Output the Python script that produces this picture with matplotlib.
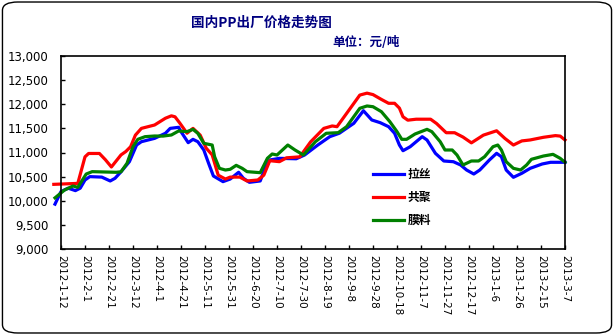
import matplotlib
matplotlib.use('Agg')
import matplotlib.pyplot as plt
from matplotlib.patches import FancyBboxPatch

plt.rcParams['font.family'] = ['DejaVu Sans', 'Noto Sans CJK SC']

# day offsets from 2012-1-12 and prices (元/吨)
red_days = [-6, 14, 20, 23, 32, 37, 42, 50, 54, 58, 62, 67, 78, 87, 92, 95, 99, 105, 110, 116,
            121, 126, 131, 137, 141, 149, 155, 164, 169, 174, 182, 188, 199, 208, 219, 226, 230, 238, 249, 255,
            260, 267, 273, 278, 282, 285, 289, 296, 308, 313, 321, 328, 335, 342, 352, 363, 370, 377, 384, 391,
            402, 412, 416, 420]
red_vals = [10340, 10360, 10910, 10980, 10980, 10850, 10700, 10950, 11020, 11120, 11360, 11500, 11570, 11710, 11760, 11740, 11610, 11400, 11500, 11360,
            11090, 10950, 10530, 10450, 10490, 10490, 10410, 10430, 10530, 10830, 10810, 10890, 10910, 11220, 11500, 11550, 11535, 11810, 12190, 12230,
            12200, 12100, 12020, 12020, 11920, 11740, 11670, 11690, 11690, 11600, 11410, 11410, 11320, 11200, 11360, 11450, 11290, 11155, 11240, 11260,
            11315, 11350, 11340, 11260]

blue_days = [-5, 0, 6, 12, 16, 20, 24, 34, 41, 45, 50, 57, 63, 67, 78, 87, 91, 98, 100, 106,
             110, 114, 119, 123, 127, 135, 141, 148, 152, 157, 166, 170, 174, 182, 196, 203, 214, 224, 232, 244,
             252, 259, 266, 273, 278, 282, 285, 291, 301, 305, 312, 319, 327, 333, 338, 344, 349, 357, 363, 367,
             371, 377, 384, 391, 401, 408, 420]
blue_vals = [9930, 10190, 10260, 10210, 10260, 10430, 10500, 10490, 10410, 10465, 10600, 10810, 11155, 11224, 11293, 11398, 11500, 11522, 11432, 11204,
             11273, 11224, 11052, 10776, 10513, 10396, 10450, 10590, 10465, 10382, 10410, 10672, 10845, 10879, 10870, 10948, 11155, 11328, 11400, 11605,
             11866, 11674, 11618, 11535, 11398, 11155, 11037, 11120, 11328, 11259, 10983, 10824, 10809, 10741, 10637, 10554, 10637, 10845, 10983, 10913,
             10637, 10486, 10569, 10672, 10762, 10797, 10797]

green_days = [-5, 3, 10, 14, 21, 26, 46, 50, 55, 60, 64, 70, 78, 85, 92, 98, 105, 110, 114, 119,
              123, 126, 128, 132, 137, 141, 146, 151, 155, 166, 172, 176, 180, 189, 195, 202, 212, 221, 231, 238,
              249, 255, 260, 267, 274, 280, 284, 288, 295, 305, 309, 316, 320, 326, 330, 335, 342, 348, 353, 360,
              364, 367, 371, 377, 383, 388, 392, 402, 410, 416, 420]
green_vals = [10060, 10223, 10306, 10278, 10554, 10603, 10590, 10600, 10776, 11120, 11273, 11328, 11342, 11340, 11363, 11446, 11432, 11480, 11398, 11190,
              11170, 11155, 10913, 10672, 10637, 10652, 10734, 10672, 10603, 10582, 10880, 10969, 10948, 11155, 11052, 10948, 11224, 11398, 11411, 11535,
              11916, 11964, 11949, 11846, 11640, 11432, 11273, 11273, 11383, 11480, 11432, 11224, 11052, 11052, 10948, 10741, 10824, 10824, 10913, 11120,
              11155, 11052, 10809, 10672, 10637, 10741, 10859, 10927, 10962, 10879, 10797]

tick_labels = ['2012-1-12', '2012-2-1', '2012-2-21', '2012-3-12', '2012-4-1', '2012-4-21',
               '2012-5-11', '2012-5-31', '2012-6-20', '2012-7-10', '2012-7-30', '2012-8-19',
               '2012-9-8', '2012-9-28', '2012-10-18', '2012-11-7', '2012-11-27', '2012-12-17',
               '2013-1-6', '2013-1-26', '2013-2-15', '2013-3-7']

fig = plt.figure(figsize=(6.14, 3.35), dpi=100)
fig.patch.set_facecolor('white')

# rounded chart border
border = FancyBboxPatch((0.004, 0.006), 0.992, 0.988, boxstyle='round,pad=0,rounding_size=0.025',
                        transform=fig.transFigure, fill=False, edgecolor='black', linewidth=1.0)
fig.patches.append(border)

ax = fig.add_axes([61 / 614, 1 - 249 / 335, 504 / 614, 193 / 335])

ax.plot(blue_days, blue_vals, color='#0000FF', lw=2.3, label='拉丝', clip_on=False)
ax.plot(red_days, red_vals, color='#FF0000', lw=2.3, label='共聚', clip_on=False)
ax.plot(green_days, green_vals, color='#008000', lw=2.3, label='膜料', clip_on=False)

ax.set_xlim(0, 420)
ax.set_ylim(9000, 13000)
ax.set_yticks(range(9000, 13001, 500))
ax.set_yticklabels([f'{v:,}' for v in range(9000, 13001, 500)], fontsize=8.5)
ax.set_xticks(range(0, 421, 20))
ax.set_xticklabels(tick_labels, rotation=270, fontsize=7.5, va='top', ha='center')
ax.tick_params(direction='in', length=3, width=1, pad=4)
ax.tick_params(axis='y', pad=9)
for s in ax.spines.values():
    s.set_linewidth(1.2)

leg = ax.legend(loc='upper left', bbox_to_anchor=(0.598, 0.475), frameon=False,
                handlelength=2.6, labelspacing=0.85, handletextpad=0.35,
                prop={'family': ['Noto Sans CJK SC'], 'weight': 'bold', 'size': 8.5})

fig.text(261 / 614, 1 - 23 / 335, '国内PP出厂价格走势图', ha='center', va='center',
         fontsize=9.8, fontweight='bold', color='#000080', family=['Noto Sans CJK SC'])
fig.text(366 / 614, 1 - 43 / 335, '单位：元/吨', ha='center', va='center',
         fontsize=9, fontweight='bold', color='#000080', family=['Noto Sans CJK SC'])

plt.savefig('out.png', dpi=100)
